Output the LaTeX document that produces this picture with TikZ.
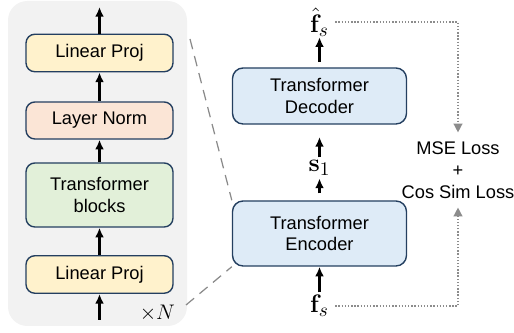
\documentclass[tikz,border=0pt]{standalone}
\usepackage{amsmath,amssymb}
\usepackage{xcolor}
\usepackage[no-math]{fontspec}
\setmainfont{Liberation Sans}
\usepackage{tikz}
\usetikzlibrary{arrows.meta}
\definecolor{panel}{HTML}{F2F2F2}
\definecolor{edge}{HTML}{243F60}
\definecolor{projfill}{HTML}{FFF2CC}
\definecolor{normfill}{HTML}{FBE5D6}
\definecolor{blockfill}{HTML}{E2F0D9}
\definecolor{codefill}{HTML}{DEEBF7}
\definecolor{lossgray}{HTML}{8C8C8C}
\definecolor{zoomgray}{HTML}{8A8A8A}
\tikzset{
  box/.style={draw=edge, line width=0.8pt, rounded corners=5pt, align=center,
    minimum width=2.94cm, font=\fontsize{10.4}{12.5}\selectfont},
  projbox/.style={box, fill=projfill, minimum height=0.75cm},
  normbox/.style={box, fill=normfill, minimum height=0.74cm},
  blockbox/.style={box, fill=blockfill, minimum height=1.28cm},
  codebox/.style={box, fill=codefill, minimum width=3.48cm, rounded corners=6pt},
  flow/.style={-{Latex[length=5.5pt,width=5pt]}, line width=1.2pt, black},
  lossline/.style={densely dotted, draw=lossgray, line width=0.8pt,
    -{Triangle[length=5pt,width=5pt]}},
  zoomline/.style={dashed, draw=zoomgray, line width=0.7pt, dash pattern=on 6pt off 4pt},
  lab/.style={font=\fontsize{10.4}{12.5}\selectfont, inner sep=1pt},
  vec/.style={font=\fontsize{15}{17}\selectfont, inner sep=0.5pt}
}

\begin{document}
\begin{tikzpicture}[x=0.02cm, y=-0.02cm]
  \useasboundingbox (0,0) rectangle (514,333);

  % gray panel with the inside of the encoder
  \fill[panel, rounded corners=11pt] (8,1) rectangle (187,326);

  \node[projbox]  (projtop) at (99.5,53)    {Linear Proj};
  \node[normbox]  (norm)    at (99.5,120.5) {Layer Norm};
  \node[blockbox] (blocks)  at (99.5,195)   {Transformer\\blocks};
  \node[projbox]  (projbot) at (99.5,274.5) {Linear Proj};
  \coordinate (outtop) at (99.5,7);
  \coordinate (inbot)  at (99.5,320);

  \draw[flow] (inbot) -- (projbot);
  \draw[flow] (projbot) -- (blocks);
  \draw[flow] (blocks) -- (norm);
  \draw[flow] (norm) -- (projtop);
  \draw[flow] (projtop) -- (outtop);

  \node[lab, anchor=east, font=\fontsize{11.5}{13}\selectfont] (times) at (177,313) {$\times N$};

  % encoder / decoder
  \node[codebox, minimum height=1.3cm]  (enc) at (319.5,233.5) {Transformer\\Encoder};
  \node[codebox, minimum height=1.12cm] (dec) at (319.5,96)    {Transformer\\Decoder};

  \node[vec] (fs)   at (319.5,306) {$\mathbf{f}_s$};
  \node[vec] (s1)   at (319.5,168) {$\mathbf{s}_1$};
  \node[vec] (fhat) at (319.5,22)  {$\hat{\mathbf{f}}_s$};

  \draw[flow, shorten <=1pt] (fs) -- (enc);
  \draw[flow, shorten <=4pt, shorten >=1pt] (enc) -- (s1);
  \draw[flow, shorten <=1pt, shorten >=7pt] (s1) -- (dec);
  \draw[flow, shorten <=3pt] (dec) -- (fhat);

  % zoom lines
  \coordinate (zoomtop) at (190,39);
  \coordinate (zoombot) at (186,305);
  \draw[zoomline] (zoomtop) -- (enc.north west);
  \draw[zoomline] (zoombot) -- (enc.south west);

  % losses
  \node[lab, align=center, inner sep=0pt] (loss) at (458,170)
    {MSE Loss\\+\\Cos Sim Loss};
  \draw[lossline, shorten <=3pt, shorten >=5pt] (fhat.east) -| (loss.north);
  \draw[lossline, shorten <=3pt, shorten >=5pt] (fs.east) -| (loss.south);
\end{tikzpicture}
\end{document}
